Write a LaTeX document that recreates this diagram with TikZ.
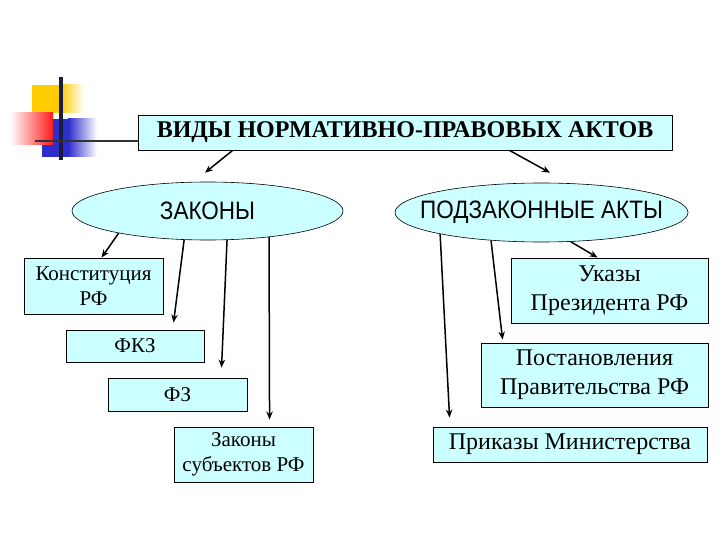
\documentclass[tikz,border=0pt]{standalone}
\usepackage{fontspec}
\setmainfont{Liberation Serif}
\setsansfont{Liberation Sans}
\usetikzlibrary{shapes.geometric,arrows.meta,calc}
\definecolor{boxfill}{HTML}{CCFFFF}
\definecolor{yellowc}{HTML}{FFCC00}
\definecolor{redc}{HTML}{FF1A1A}
\definecolor{bluec}{HTML}{2E2ECC}
\definecolor{navyc}{HTML}{1C1C40}
\definecolor{linec}{HTML}{333333}
\begin{document}
\begin{tikzpicture}[x=1pt,y=-1pt,
  box/.style={draw=black, line width=0.9pt, fill=boxfill, align=center, inner sep=0pt},
  lefttext/.style={font=\fontsize{21}{25}\selectfont},
  righttext/.style={font=\fontsize{24}{29}\selectfont},
  oval/.style={ellipse, draw=black, line width=0.6pt, fill=boxfill, inner sep=0pt},
  ovaltext/.style={font=\sffamily\fontsize{22.5}{26}\selectfont},
  arr/.style={-{Stealth[length=8pt,width=6.5pt]}, line width=1.5pt}
]
\useasboundingbox (0,0) rectangle (720,540);
% decoration
\fill[yellowc] (32,85) rectangle (60,113);
\shade[left color=yellowc, right color=white] (60,85) rectangle (84,113);
\fill[bluec] (42,119) rectangle (68,157);
\shade[left color=bluec, right color=white] (68,119) rectangle (97,157);
\shade[left color=white, right color=redc] (10,113) rectangle (53,145);
\draw[navyc, line width=3.2pt] (61,77) -- (61,160);
% title
\node[box, minimum width=534, minimum height=35, font=\bfseries\fontsize{24}{28}\selectfont] (title) at (405,132.5) {ВИДЫ НОРМАТИВНО-ПРАВОВЫХ АКТОВ};
\coordinate (hstart) at (35,141);
\draw[linec, line width=2.8pt] (hstart) -- (title.west |- hstart);
% ellipses
\node[oval, minimum width=271, minimum height=58, label={[ovaltext]center:\scalebox{1}[1.12]{ЗАКОНЫ}}] (zak) at (207.5,211) {};
\node[oval, minimum width=293, minimum height=59, label={[ovaltext]center:\scalebox{1}[1.12]{ПОДЗАКОННЫЕ АКТЫ}}] (pod) at (541.5,212.5) {};
% left boxes
\node[box, lefttext, minimum width=139, minimum height=56] (kon) at (93.5,286) {Конституция\\РФ};
\node[box, lefttext, minimum width=138, minimum height=32] (fkz) at (135,346) {ФКЗ};
\node[box, lefttext, minimum width=139, minimum height=33] (fz) at (177.5,394.5) {ФЗ};
\node[box, lefttext, minimum width=139, minimum height=55] (zsub) at (243.5,454.5) {Законы\\субъектов РФ};
% right boxes
\node[box, righttext, minimum width=197, minimum height=65] (uk) at (609.5,290.5) {Указы\\Президента РФ};
\node[box, righttext, minimum width=227, minimum height=64] (post) at (594.5,375) {Постановления\\Правительства РФ};
\node[box, righttext, minimum width=274, minimum height=35] (prik) at (570,444.5) {Приказы Министерства};
% arrows from title
\draw[arr] ($(title.south west)+(95,0)$) -- ($(zak.north)+(-2.5,-9)$);
\draw[arr] ($(title.south west)+(372,0)$) -- ($(pod.north)+(8.5,-10)$);
% arrows from ЗАКОНЫ
\draw[arr] (zak.194) -- ($(kon.north west)+(78,0)$);
\draw[arr] (zak.231) -- ($(fkz.north west)+(108,-7)$);
\draw[arr] (zak.304) -- ($(fz.north west)+(114,-10)$);
\draw[arr] (zak.337) -- ($(zsub.north west)+(96,-7)$);
% arrows from ПОДЗАКОННЫЕ АКТЫ
\draw[arr] (pod.315) -- ($(uk.north west)+(87,0)$);
\draw[arr] (pod.209) -- ($(post.north west)+(22,-3)$);
\draw[arr] (pod.192) -- ($(prik.north west)+(17,-9)$);
\end{tikzpicture}
\end{document}
